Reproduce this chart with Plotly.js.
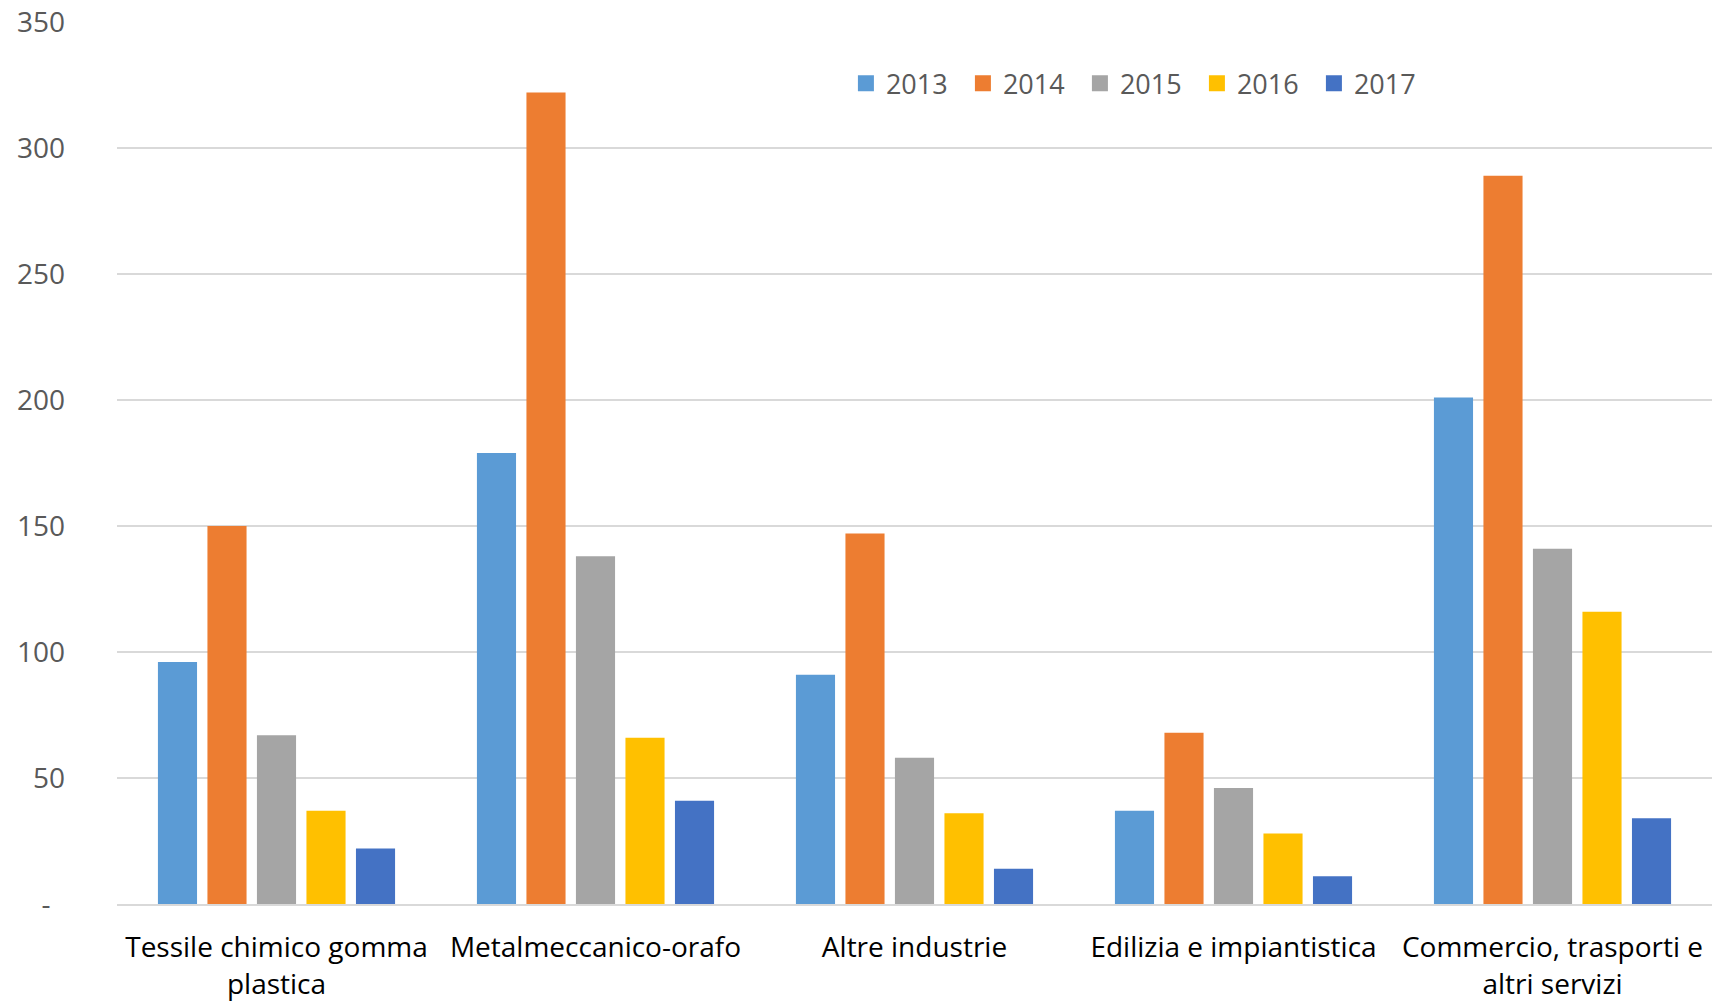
<!DOCTYPE html>
<html>
<head>
<meta charset="utf-8">
<script src="https://cdn.plot.ly/plotly-3.0.1.min.js"></script>
<style>html,body{margin:0;padding:0;background:#fff;}#chart{width:1714px;height:1002px;}</style>
</head>
<body>
<div id="chart"></div>
<script>
const categories = [
  "Tessile chimico gomma<br>plastica",
  "Metalmeccanico-orafo",
  "Altre industrie",
  "Edilizia e impiantistica",
  "Commercio, trasporti e<br>altri servizi"
];
const years = ["2013", "2014", "2015", "2016", "2017"];
const values2013 = [96, 179, 91, 37, 201];
const values2014 = [150, 322, 147, 68, 289];
const values2015 = [67, 138, 58, 46, 141];
const values2016 = [37, 66, 36, 28, 116];
const values2017 = [22, 41, 14, 11, 34];
const seriesValues = [values2013, values2014, values2015, values2016, values2017];
const colors = ["#5B9BD5", "#ED7D31", "#A5A5A5", "#FFC000", "#4472C4"];
const yTickVals = [0, 50, 100, 150, 200, 250, 300, 350];
const yTickText = ["-\u00a0\u00a0", "50", "100", "150", "200", "250", "300", "350"];

const barTraces = years.map((y, i) => ({
  type: "bar",
  name: y,
  legendgroup: y,
  showlegend: false,
  x: categories,
  y: seriesValues[i],
  marker: {color: colors[i]},
  hoverinfo: "x+y+name"
}));

// legend entries with square swatches (same series names and colours)
const legendTraces = years.map((y, i) => ({
  type: "scatter",
  mode: "markers",
  name: y,
  legendgroup: y,
  showlegend: true,
  x: [null],
  y: [null],
  marker: {color: colors[i], symbol: "square", size: 16},
  hoverinfo: "skip"
}));

const layout = {
  width: 1714,
  height: 1002,
  margin: {l: 117, r: 2, t: 22, b: 98, pad: 0},
  paper_bgcolor: "#ffffff",
  plot_bgcolor: "#ffffff",
  font: {family: "Open Sans, Noto Sans, sans-serif", color: "#595959", size: 27},
  barmode: "group",
  bargap: 0.224,
  bargroupgap: 0.21,
  showlegend: true,
  legend: {
    orientation: "h",
    x: 0.457, xanchor: "left",
    y: 0.93, yanchor: "middle",
    font: {size: 27, color: "#595959"},
    bgcolor: "rgba(0,0,0,0)",
    traceorder: "normal",
    entrywidth: 72,
    entrywidthmode: "pixels"
  },
  xaxis: {
    type: "category",
    showgrid: false,
    showline: true,
    linecolor: "#D9D9D9",
    linewidth: 1.5,
    ticks: "",
    tickfont: {size: 28, color: "#000000"},
    ticklabelstandoff: 18,
    zeroline: false
  },
  yaxis: {
    range: [0, 350],
    tickvals: yTickVals,
    ticktext: yTickText,
    showgrid: true,
    gridcolor: "#D9D9D9",
    gridwidth: 1.5,
    zeroline: false,
    showline: false,
    ticks: "",
    tickfont: {size: 28, color: "#595959"},
    ticklabelstandoff: 51,
    fixedrange: true
  }
};

Plotly.newPlot("chart", barTraces.concat(legendTraces), layout, {displayModeBar: false, responsive: false});
</script>
</body>
</html>
